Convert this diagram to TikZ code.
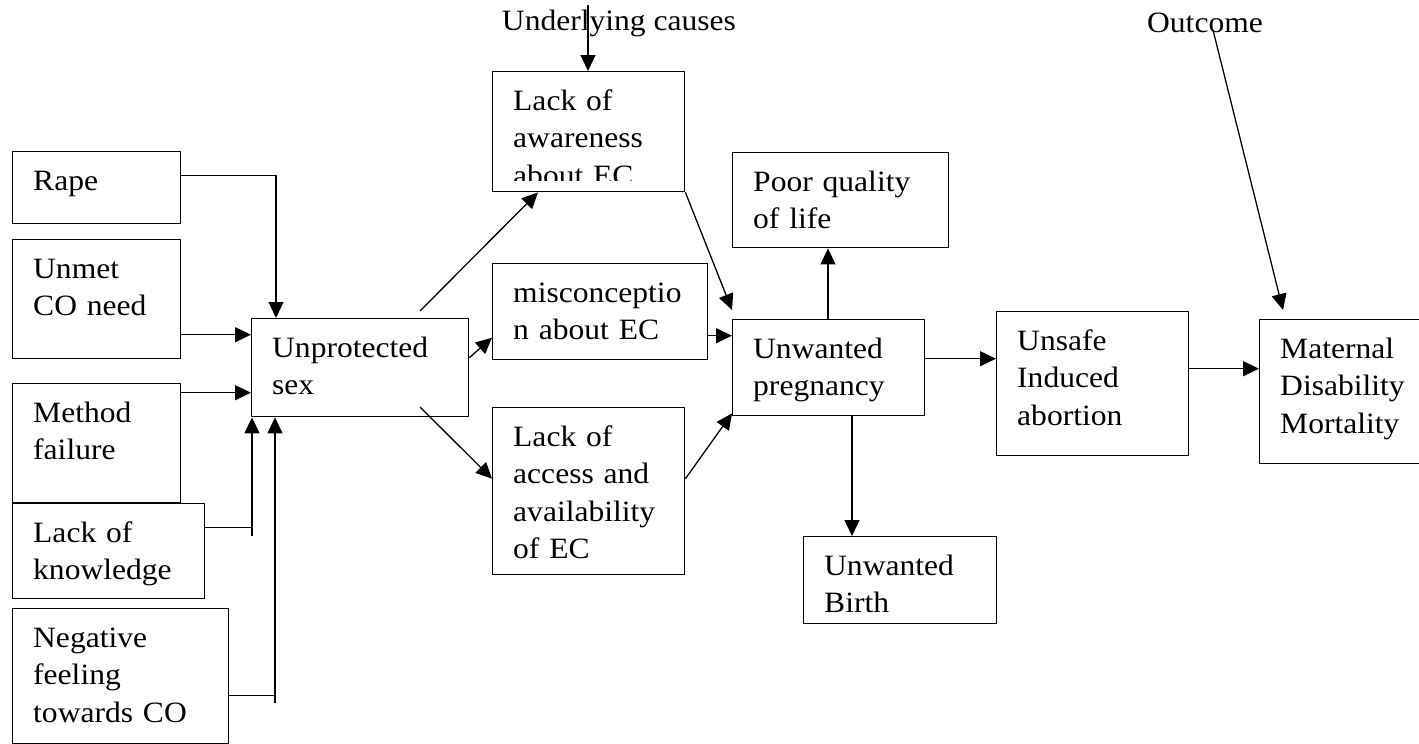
\documentclass[tikz,border=0pt]{standalone}
\usepackage{fontspec}
\setmainfont[FakeStretch=1.07]{Liberation Serif}
\usetikzlibrary{arrows.meta,calc}
\newcommand\flowbox[6]{%
  \node[box, minimum width=#4pt, minimum height=#5pt] (#1) at (#2,#3) {};
  \node[txt] (#1-t) at ([xshift=21pt,yshift=-39pt]#1.north west) {#6};}
\begin{document}
\begin{tikzpicture}[x=1pt,y=-1pt,
  box/.style={draw, line width=1.4pt, inner sep=0pt, anchor=north west},
  txt/.style={anchor=base west, inner sep=0pt, text width=260pt, align=left,
    font=\fontsize{29.5}{37.5}\selectfont},
  lbl/.style={anchor=base, inner sep=0pt, font=\fontsize{29.5}{37.5}\selectfont},
  arr/.style={line width=1.3pt, -{Triangle[length=16pt,width=15pt]}},
  ln/.style={line width=1.3pt}]
\useasboundingbox (0,0) rectangle (1419,744);

% boxes
\flowbox{rape}{12}{151}{168}{72}{Rape}
\flowbox{unmet}{12}{239}{168}{119}{Unmet\\CO need}
\flowbox{method}{12}{383}{168}{119}{Method\\failure}
\flowbox{know}{12}{503}{192}{95}{Lack of\\knowledge}
\flowbox{neg}{12}{608}{216}{135}{Negative\\feeling\\towards CO}
\flowbox{unprot}{251}{318}{217}{98}{Unprotected\\sex}
\flowbox{miscon}{492}{263}{215}{96}{misconceptio\\n about EC}
\flowbox{access}{492}{407}{192}{167}{Lack of\\access and\\availability\\of EC}
\flowbox{unwant}{732}{319}{192}{96}{Unwanted\\pregnancy}
\flowbox{poor}{732}{152}{216}{95}{Poor quality\\of life}
\flowbox{birth}{803}{536}{193}{87}{Unwanted\\Birth}
\flowbox{unsafe}{996}{311}{192}{144}{Unsafe\\Induced\\abortion}
\flowbox{matern}{1259}{319}{170}{144}{Maternal\\Disability\\Mortality}

% box with clipped text
\node[box, minimum width=192pt, minimum height=120pt] (aware) at (492,71) {};
\begin{scope}
  \clip (492,71) rectangle (684,180);
  \node[txt] (aware-t) at ([xshift=21pt,yshift=-39pt]aware.north west) {Lack of\\awareness\\about EC};
\end{scope}

% labels
\node[lbl] (uc) at (619,30) {Underlying causes};
\node[lbl] (oc) at (1205,32) {Outcome};
\coordinate (ucs) at (588,5);
\coordinate (ocs) at (1213,30);
\draw[arr] (ucs) -- (ucs |- aware.north);
\draw[arr] (ocs) -- ([xshift=24pt,yshift=9pt]matern.north west);

% left inputs
\draw[arr] ([yshift=12pt]rape.east) -| ([xshift=25pt]unprot.north west);
\draw[arr] ([yshift=-35.5pt]unmet.east) -- ([yshift=-35.5pt]unmet.east -| unprot.west);
\draw[arr] ([yshift=50.5pt]method.east) -- ([yshift=50.5pt]method.east -| unprot.west);
\coordinate (kv) at (252,536);
\coordinate (nv) at (275,703);
\draw[ln] ([yshift=23.5pt]know.east) -- ([yshift=23.5pt]know.east -| kv);
\draw[arr] (kv) -- (kv |- unprot.south);
\draw[ln] ([yshift=-19.5pt]neg.east) -- ([yshift=-19.5pt]neg.east -| nv);
\draw[arr] (nv) -- (nv |- unprot.south);

% middle
\coordinate (u1) at (420,311);
\coordinate (u2) at (420,407);
\draw[arr] (u1) -- ([xshift=46pt]aware.south west);
\draw[arr] ([yshift=10pt]unprot.east) -- ([yshift=-26pt]miscon.west);
\draw[arr] (u2) -- ([yshift=12.5pt]access.west);
\draw[arr] (aware.south east) -- ([yshift=9pt]unwant.north west);
\draw[arr] ([yshift=-24pt]miscon.east) -- ([yshift=-24pt]miscon.east -| unwant.west);
\draw[arr] ([yshift=12.5pt]access.east) -- ([yshift=3pt]unwant.south west);

% right
\draw[arr] ([xshift=96pt]unwant.north west) -- ([xshift=96pt]unwant.north west |- poor.south);
\draw[arr] ([xshift=120pt]unwant.south west) -- ([xshift=120pt]unwant.south west |- birth.north);
\draw[arr] ([yshift=9pt]unwant.east) -- ([yshift=9pt]unwant.east -| unsafe.west);
\draw[arr] ([yshift=15pt]unsafe.east) -- ([yshift=15pt]unsafe.east -| matern.west);
\end{tikzpicture}
\end{document}
